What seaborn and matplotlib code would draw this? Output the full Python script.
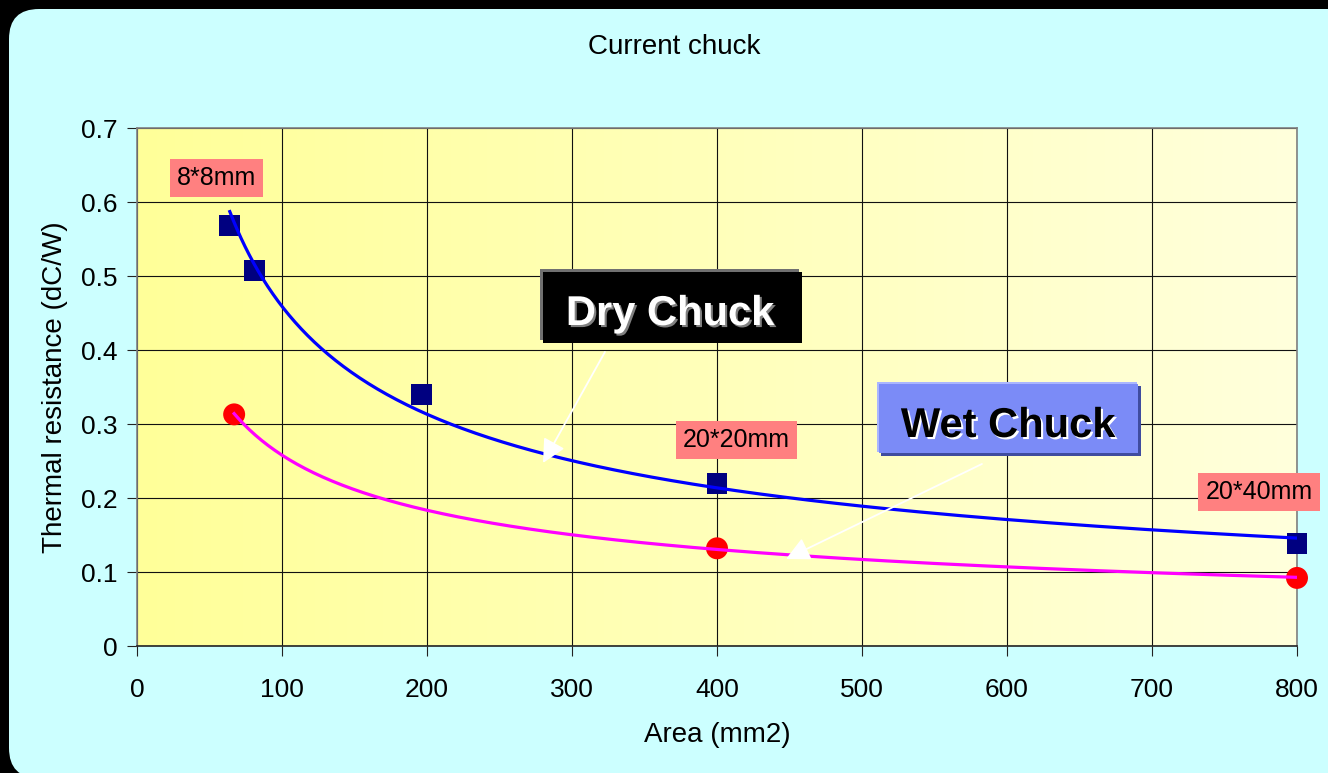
import numpy as np
import pandas as pd
import matplotlib
matplotlib.use("Agg")
import matplotlib.pyplot as plt
import seaborn as sns
from matplotlib.colors import LinearSegmentedColormap
from matplotlib.patches import FancyBboxPatch, Rectangle
from matplotlib.transforms import IdentityTransform
import matplotlib.patheffects as pe

# Measured thermal resistance vs. die area
dry_area = [64, 81, 196, 400, 800]
dry_res = [0.568, 0.508, 0.340, 0.219, 0.139]
wet_area = [67, 400, 800]
wet_res = [0.313, 0.132, 0.092]

x_ticks = [0, 100, 200, 300, 400, 500, 600, 700, 800]
x_tick_labels = ["0", "100", "200", "300", "400", "500", "600", "700", "800"]
y_ticks = [0, 0.1, 0.2, 0.3, 0.4, 0.5, 0.6, 0.7]
y_tick_labels = ["0", "0.1", "0.2", "0.3", "0.4", "0.5", "0.6", "0.7"]

size_labels = ["8*8mm", "20*20mm", "20*40mm"]

plt.rcParams["font.family"] = ["Liberation Sans", "DejaVu Sans"]

W, H = 1328, 773
fig = plt.figure(figsize=(W / 100, H / 100), dpi=100)
fig.patch.set_facecolor("black")

# rounded cyan panel
panel = FancyBboxPatch((9 + 30, 773 - 778 + 30), 1400, 764 - (773 - 778) - 60,
                       boxstyle="round,pad=30,rounding_size=30",
                       facecolor="#CCFFFF", edgecolor="none",
                       transform=IdentityTransform(), zorder=-10)
fig.patches.append(panel)

ax = fig.add_axes([137 / W, 127 / H, 1160 / W, 518 / H])
ax.set_facecolor("#FFFFBB")

# yellow gradient background of the plot area
grad = LinearSegmentedColormap.from_list("plotbg", ["#FFFF99", "#FFFFDC"])
ax.imshow(np.linspace(0, 1, 256).reshape(1, -1), cmap=grad, aspect="auto",
          extent=[0, 800, 0, 0.7], zorder=-1, interpolation="bilinear")


def power_fit(x, y, n=200):
    x = np.asarray(x, float)
    y = np.asarray(y, float)
    b, ln_a = np.polyfit(np.log(x), np.log(y), 1)
    xs = np.geomspace(x.min(), x.max(), n)
    return pd.DataFrame({"area": xs, "res": np.exp(ln_a) * xs ** b})


dry_df = pd.DataFrame({"area": dry_area, "res": dry_res})
wet_df = pd.DataFrame({"area": wet_area, "res": wet_res})

sns.scatterplot(data=dry_df, x="area", y="res", marker="s", s=228,
                color="#000080", edgecolor="none", ax=ax, clip_on=False, zorder=3)
sns.scatterplot(data=wet_df, x="area", y="res", marker="o", s=250,
                color="#FF0000", edgecolor="none", ax=ax, clip_on=False, zorder=3)
sns.lineplot(data=power_fit(dry_area, dry_res), x="area", y="res",
             color="#0000FF", lw=2.3, ax=ax, zorder=4)
sns.lineplot(data=power_fit(wet_area, wet_res), x="area", y="res",
             color="#FF00FF", lw=2.3, ax=ax, zorder=4)

ax.set_xlim(0, 800)
ax.set_ylim(0, 0.7)
ax.set_xticks(x_ticks)
ax.set_xticklabels(x_tick_labels)
ax.set_yticks(y_ticks)
ax.set_yticklabels(y_tick_labels)
ax.grid(True, color="#111111", lw=0.8, zorder=0.5)
ax.set_axisbelow(True)
for side in ["left", "top", "right"]:
    ax.spines[side].set_color("#808080")
    ax.spines[side].set_linewidth(1.2)
ax.spines["bottom"].set_color("#222222")
ax.spines["bottom"].set_linewidth(1.2)
ax.tick_params(axis="both", direction="out", length=7, width=0.8,
               color="#222222", labelsize=19)
ax.tick_params(axis="x", pad=16)
ax.tick_params(axis="y", pad=7)

ax.set_xlabel("Area (mm2)", fontsize=20)
ax.set_ylabel("Thermal resistance (dC/W)", fontsize=20)
ax.xaxis.set_label_coords(0.5, -0.147)
ax.yaxis.set_label_coords(-0.0595, 0.5)

fig.text(674 / W, 1 - 47 / H, "Current chuck", fontsize=20,
         ha="center", va="center")

# size call-outs
label_pos = [(0.0685, 0.9035), (0.5164, 0.3977), (0.9672, 0.2973)]
for txt, (lx, ly) in zip(size_labels, label_pos):
    ax.text(lx, ly, txt, transform=ax.transAxes, fontsize=18,
            ha="center", va="center", zorder=6, clip_on=False,
            bbox=dict(boxstyle="square,pad=0.28", facecolor="#FF8080",
                      edgecolor="none"))

# "Dry Chuck" box
px_x, px_y = 1 / 1160, 1 / 518
ax.add_patch(Rectangle((0.35 - 3 * px_x, 0.5849 + 3 * px_y), 0.2233, 0.1371,
                       transform=ax.transAxes, facecolor="#707070",
                       edgecolor="none", zorder=6, clip_on=False))
ax.add_patch(Rectangle((0.35, 0.5849), 0.2233, 0.1371,
                       transform=ax.transAxes, facecolor="black",
                       edgecolor="none", zorder=6.1, clip_on=False))
ax.text(0.4595, 0.6197, "Dry Chuck", transform=ax.transAxes, fontsize=30,
        fontweight="bold", color="white", ha="center", va="baseline",
        zorder=7,
        path_effects=[pe.withSimplePatchShadow(offset=(1.5, -1.5),
                                               shadow_rgbFace="#808080",
                                               alpha=1.0)])

# "Wet Chuck" box
ax.add_patch(Rectangle((0.6388 + 3 * px_x, 0.3726 - 3 * px_y), 0.2241, 0.1351,
                       transform=ax.transAxes, facecolor="#3F4C9F",
                       edgecolor="none", zorder=6, clip_on=False))
ax.add_patch(Rectangle((0.6388 - 1 * px_x, 0.3726 + 1 * px_y), 0.2241, 0.1351,
                       transform=ax.transAxes, facecolor="#AAB6FF",
                       edgecolor="none", zorder=6.05, clip_on=False))
ax.add_patch(Rectangle((0.6388 + 1 * px_x, 0.3726), 0.2241 - 1 * px_x, 0.1351 - 1 * px_y,
                       transform=ax.transAxes, facecolor="#7B8BF7",
                       edgecolor="none", zorder=6.1, clip_on=False))
ax.text(0.7509, 0.4035, "Wet Chuck", transform=ax.transAxes, fontsize=30,
        fontweight="bold", color="black", ha="center", va="baseline",
        zorder=7,
        path_effects=[pe.withSimplePatchShadow(offset=(1.5, -1.5),
                                               shadow_rgbFace="white",
                                               alpha=1.0)])

# pointer arrows
arrow_style = dict(arrowstyle="-|>,head_length=0.6,head_width=0.3",
                   color="white", lw=1.3, mutation_scale=24,
                   shrinkA=0, shrinkB=0)
ax.annotate("", xy=(0.35, 0.3533), xytext=(0.4034, 0.5676),
            xycoords="axes fraction", textcoords="axes fraction",
            arrowprops=arrow_style, zorder=5)
ax.annotate("", xy=(0.5595, 0.168), xytext=(0.7284, 0.3514),
            xycoords="axes fraction", textcoords="axes fraction",
            arrowprops=arrow_style, zorder=5)

fig.savefig("out.png", dpi=100, facecolor=fig.get_facecolor())
